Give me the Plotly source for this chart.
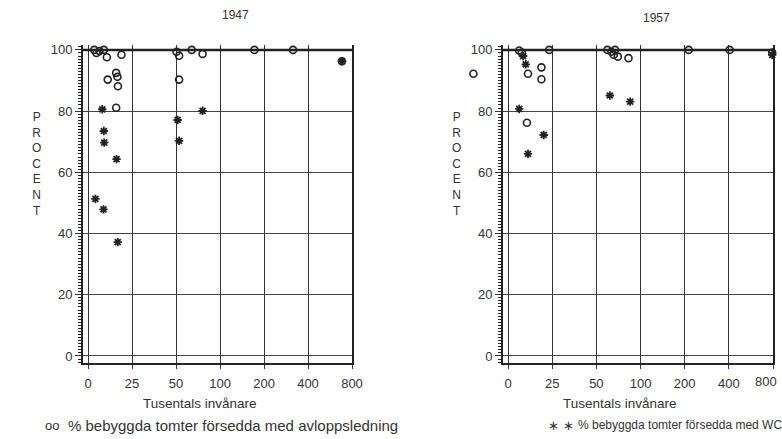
import numpy as np
import plotly.graph_objects as go

# ---------------- data ----------------
x_tick_vals = [0, 25, 50, 100, 200, 400, 800]
x_tick_text = ["0", "25", "50", "100", "200", "400", "800"]
y_tick_vals = [0, 20, 40, 60, 80, 100]

panel_titles = ["1947", "1957"]

# 1947 – % bebyggda tomter försedda med avloppsledning (circles)
x47_avlopp = [3.5, 4.8, 6.5, 9, 10.7, 19, 11.2, 16, 16.7, 17, 16, 50.5, 52.5, 52.5, 64, 76, 172, 316, 683]
y47_avlopp = [100, 99, 99.6, 100, 97.6, 98.4, 90.3, 92.5, 91.2, 88.1, 81.1, 99.4, 98.1, 90.3, 100, 98.7, 100, 100, 96.3]
# 1947 – % bebyggda tomter försedda med WC (stars)
x47_wc = [8.1, 9, 9.2, 16.2, 51.3, 52.5, 76, 4.2, 8.8, 16.9, 683]
y47_wc = [80.6, 73.5, 69.7, 64.3, 77.1, 70.3, 80.1, 51.3, 47.9, 37.2, 96.3]

# 1957 – avloppsledning (circles)
x57_avlopp = [-19.6, 6.3, 7.8, 11.3, 18.9, 18.9, 10.7, 23.3, 59.5, 63.3, 65.7, 67, 70, 82.8, 213, 405, 790]
y57_avlopp = [92.2, 99.8, 99.1, 92.2, 94.3, 90.4, 76.2, 100, 100, 99.4, 98.4, 100, 97.8, 97.3, 100, 100, 99.1]
# 1957 – WC (stars)
x57_wc = [10, 6.3, 20.2, 11.3, 61.8, 85, 8.5, 790]
y57_wc = [95.3, 80.7, 72.2, 66, 85.1, 83.1, 98, 98.4]

legend_avlopp = "% bebyggda tomter försedda med avloppsledning"
legend_wc = "% bebyggda tomter försedda med WC"
x_title = "Tusentals invånare"
y_title = "PROCENT"


# axis scale: linear 0-50, then doubling steps (50,100,200,400,800) equally spaced
def pos(v):
    v = np.asarray(v, dtype=float)
    safe = np.maximum(v, 1e-9)
    return np.where(v <= 50, v / 25.0, 2 + np.log2(safe / 50.0))


W, H = 782, 439
FONT = "Liberation Sans, Arial, sans-serif"
INK = "#222222"
TXT = "#333333"
X_RANGE = [-0.114, 6.0]
Y_RANGE = [-2.3, 101.6]
L_DOM = [83, 352]
R_DOM = [503, 773]
Y_DOM = [1 - 363 / H, 1 - 45 / H]

# wider, invisible axis pair with the same scale for the 1957 panel
# (one point there lies left of the y axis)
X3_START = -1.0
px_per_unit = (R_DOM[1] - R_DOM[0]) / (X_RANGE[1] - X_RANGE[0])
X3_DOM = [R_DOM[1] - (X_RANGE[1] - X3_START) * px_per_unit, R_DOM[1]]

fig = go.Figure()

panels = [
    (x47_avlopp, y47_avlopp, x47_wc, y47_wc, "x", "y"),
    (x57_avlopp, y57_avlopp, x57_wc, y57_wc, "x3", "y3"),
]
for xa, ya, xw, yw, xr, yr in panels:
    fig.add_trace(go.Scatter(
        x=pos(xa), y=ya, xaxis=xr, yaxis=yr, mode="markers", cliponaxis=False,
        marker=dict(symbol="circle-open", size=7, color=INK, line=dict(width=1.6, color=INK)),
        showlegend=False, hoverinfo="skip"))
    fig.add_trace(go.Scatter(
        x=pos(xw), y=yw, xaxis=xr, yaxis=yr, mode="markers", cliponaxis=False,
        marker=dict(symbol="asterisk-open", size=7, color=INK, line=dict(width=1.8, color=INK)),
        showlegend=False, hoverinfo="skip"))

def xaxis_cfg(dom, labels):
    return dict(
        domain=[dom[0] / W, dom[1] / W], range=X_RANGE, tickmode="array",
        tickvals=list(pos(x_tick_vals)), ticktext=labels, showgrid=True,
        gridcolor="#333333", gridwidth=1, zeroline=False, showline=True,
        linecolor=INK, linewidth=2, ticks="outside", ticklen=4, tickcolor="#333333",
        ticklabelstandoff=3, tickfont=dict(family=FONT, size=13, color=TXT),
        automargin=False, fixedrange=True)

def yaxis_cfg(anchor):
    return dict(
        domain=Y_DOM, range=Y_RANGE, anchor=anchor,
        tickmode="array", tickvals=y_tick_vals, showgrid=True, gridcolor="#444444",
        gridwidth=1, zeroline=False, showline=True, mirror=True, linecolor=INK,
        linewidth=2, ticks="outside", ticklen=6, tickcolor="#333333",
        minor=dict(ticks="outside", ticklen=3, dtick=1, tickcolor=INK, showgrid=False),
        tickfont=dict(family=FONT, size=13, color=TXT), automargin=False,
        fixedrange=True)

right_labels = x_tick_text[:-1] + [""]   # last label placed separately (kept inside page)

fig.update_layout(
    width=W, height=H, margin=dict(l=0, r=0, t=0, b=0),
    paper_bgcolor="white", plot_bgcolor="rgba(0,0,0,0)", template="none",
    xaxis=dict(**xaxis_cfg(L_DOM, x_tick_text), anchor="y"),
    yaxis=yaxis_cfg("x"),
    xaxis2=dict(**xaxis_cfg(R_DOM, right_labels), anchor="y2"),
    yaxis2=yaxis_cfg("x2"),
    xaxis3=dict(domain=[X3_DOM[0] / W, X3_DOM[1] / W], range=[X3_START, X_RANGE[1]],
                anchor="y3", visible=False, showgrid=False, zeroline=False, fixedrange=True),
    yaxis3=dict(domain=Y_DOM, range=Y_RANGE, anchor="x3", visible=False,
                showgrid=False, zeroline=False, fixedrange=True),
    showlegend=False,
)

# bold line at 100 %
for xr, yr in [("x", "y"), ("x2", "y2")]:
    fig.add_shape(type="line", xref=xr, yref=yr, x0=X_RANGE[0], x1=X_RANGE[1],
                  y0=100, y1=100, line=dict(color=INK, width=2.5))

def ann(text, x, y, size=13, xanchor="center", color=TXT):
    fig.add_annotation(text=text, x=x / W, y=1 - y / H, xref="paper", yref="paper",
                       showarrow=False, xanchor=xanchor, yanchor="middle",
                       font=dict(family=FONT, size=size, color=color))

ann(x_tick_text[-1], 766, 381, size=13)
ann(panel_titles[0], 235, 15, size=12)
ann(panel_titles[1], 656, 18, size=12)
ann("<br>".join(list(y_title)), 36, 164, size=12)
ann("<br>".join(list(y_title)), 456, 164, size=12)
ann(x_title, 200, 403, size=13.5)
ann(x_title, 620, 403, size=13.5)
ann("oo", 43, 425, size=13, xanchor="left")
ann(legend_avlopp, 66, 425, size=15, xanchor="left")
ann("∗ ∗", 546, 425, size=13, xanchor="left")
ann(legend_wc, 576, 425, size=12, xanchor="left")

fig.write_html("out.html")
